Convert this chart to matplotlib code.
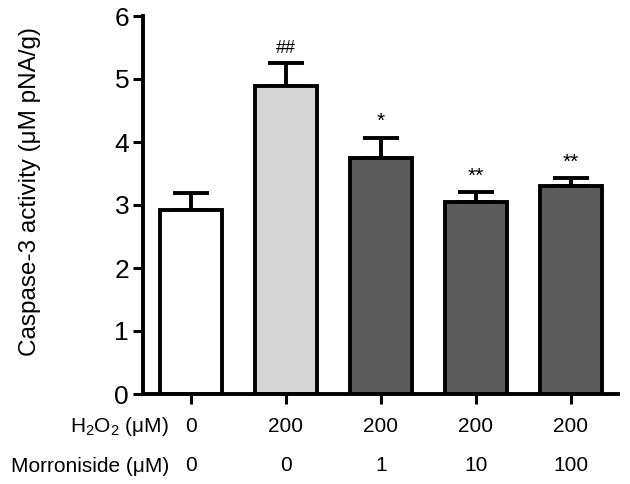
import numpy as np
import matplotlib
matplotlib.use("Agg")
import matplotlib.pyplot as plt

plt.rcParams['font.family'] = ['Liberation Sans', 'DejaVu Sans']
plt.rcParams['mathtext.fontset'] = 'custom'
plt.rcParams['mathtext.rm'] = 'Liberation Sans'
plt.rcParams['mathtext.it'] = 'Liberation Sans'

# data
h2o2_labels = ['0', '200', '200', '200', '200']
morroniside_labels = ['0', '0', '1', '10', '100']
caspase_mean = [2.92, 4.89, 3.75, 3.04, 3.30]
caspase_sem = [0.27, 0.36, 0.32, 0.17, 0.13]
signif = ['', '##', '*', '**', '**']
bar_colors = ['white', '#d6d6d6', '#5c5c5c', '#5c5c5c', '#5c5c5c']

fig = plt.figure(figsize=(6.3, 4.84), dpi=100)
ax = fig.add_axes([143 / 630, 1 - 394 / 484, 475 / 630, 378 / 484])

x = np.arange(len(caspase_mean))
lw = 2.8

ax.bar(x, caspase_mean, width=0.65, color=bar_colors, edgecolor='black',
       linewidth=lw, zorder=2)
ax.errorbar(x, caspase_mean, yerr=[np.zeros(len(x)), caspase_sem], fmt='none',
            ecolor='black', elinewidth=lw, capsize=13, capthick=lw, zorder=1)

# significance marks above the error bars
for xi, m, e, s in zip(x, caspase_mean, caspase_sem, signif):
    if s:
        fs = 13 if s.startswith('#') else 15
        ax.text(xi, m + e + 0.1, s, ha='center', va='bottom', fontsize=fs)

ax.set_xlim(-0.505, 4.495)
ax.set_ylim(0, 6)
ax.set_yticks(range(7))
ax.set_xticks(x)
ax.set_xticklabels([])
ax.tick_params(axis='y', labelsize=19, width=2.2, length=7, pad=3)
ax.tick_params(axis='x', width=2.2, length=7)
ax.spines['top'].set_visible(False)
ax.spines['right'].set_visible(False)
ax.spines['left'].set_linewidth(2.8)
ax.spines['bottom'].set_linewidth(2.8)
ax.set_ylabel('Caspase-3 activity (μM pNA/g)', fontsize=17.5)
ax.yaxis.set_label_coords(-0.215, 0.535)

# treatment table under the axis
trans = ax.get_xaxis_transform()
for xi, h, m in zip(x, h2o2_labels, morroniside_labels):
    ax.text(xi, -0.085, h, transform=trans, ha='center', va='center', fontsize=15)
    ax.text(xi, -0.19, m, transform=trans, ha='center', va='center', fontsize=15)
fig.text(169 / 630, 1 - 426 / 484, r'H$_2$O$_2$ (μM)', ha='right', va='center', fontsize=15)
fig.text(169 / 630, 1 - 466 / 484, 'Morroniside (μM)', ha='right', va='center', fontsize=15)

fig.savefig('out.png', dpi=100)
